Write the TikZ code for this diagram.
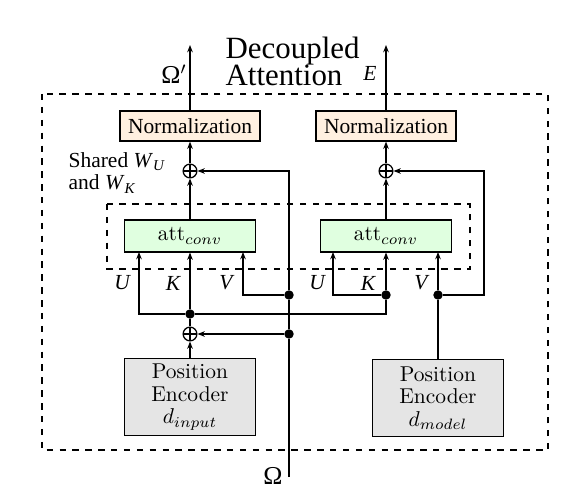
\documentclass[tikz,border=0pt]{standalone}
\usepackage[no-math]{fontspec}
\setmainfont{Liberation Serif}
\newfontfamily\cmfont{Latin Modern Roman}
\usetikzlibrary{arrows.meta}

\tikzset{
	norm/.style={draw, fill=orange!12, minimum width=2.29cm, minimum height=0.49cm, inner sep=0pt},
	attbox/.style={draw, fill=green!12, minimum width=2.14cm, minimum height=0.52cm, inner sep=0pt, font=\cmfont},
	posenc/.style={draw, fill=gray!20, minimum width=2.15cm, minimum height=1.27cm, inner sep=0pt, align=center, font=\cmfont\fontsize{10}{10.5}\selectfont},
	addop/.style={draw, circle, minimum size=6.4pt, inner sep=0pt, path picture={
		\draw (path picture bounding box.north) -- (path picture bounding box.south)
			(path picture bounding box.west) -- (path picture bounding box.east);}},
	dot/.style={circle, fill, minimum size=4.4pt, inner sep=0pt},
	lbl/.style={font=\itshape},
}

\begin{document}
\begin{tikzpicture}[x=0.01637cm, y=-0.01637cm, semithick, >={Stealth[length=3.4pt, width=2.6pt]}]
	\useasboundingbox (0,0) rectangle (572,499);
	\draw[dashed] (42,94) rectangle (548,450);
	\draw[dashed] (107,204) rectangle (470,269);

	\node[norm] (normL) at (190,126) {Normalization};
	\node[norm] (normR) at (386,126) {Normalization};
	\node[addop] (addL) at (190,171) {};
	\node[addop] (addR) at (386,171) {};
	\node[attbox] (attL) at (190,236) {att$_{conv}$};
	\node[attbox] (attR) at (386,236) {att$_{conv}$};
	\node[addop] (addB) at (190,334) {};
	\node[posenc] (posL) at (190,397) {Position\\Encoder\\$d_{input}$};
	\node[posenc] (posR) at (438,398) {Position\\Encoder\\$d_{model}$};

	\node[dot] (ktapL) at (190,314) {};
	\node[dot] (vtapL) at (289,295) {};
	\node[dot] (omtap) at (289,334) {};
	\node[dot] (ktapR) at (386,295) {};
	\node[dot] (vtapR) at (438,295) {};

	\coordinate (outL) at (190,45);
	\coordinate (outR) at (386,45);
	\coordinate (uL) at (139,252);
	\coordinate (vL) at (243,252);
	\coordinate (uR) at (333,252);
	\coordinate (vR) at (438,252);
	\coordinate (om) at (289,477);

	\node[anchor=west, align=left, inner sep=0pt, font=\fontsize{14.4}{12.6}\selectfont] (title) at (225,61) {Decoupled\\Attention};
	\node[anchor=west, align=left, inner sep=0pt, font=\fontsize{10}{10.4}\selectfont] (shared) at (68,173) {Shared \textit{W}\textsubscript{\textit{U}}\\and \textit{W}\textsubscript{\textit{K}}};
	\node[font=\large] (omp) at (174,74) {Ω$'$};
	\node[lbl] (eout) at (370,73) {E};
	\node[font=\large] (omin) at (273,476) {Ω};
	\node[lbl] at (122,283) {U};
	\node[lbl] at (173,283) {K};
	\node[lbl] at (226,283) {V};
	\node[lbl] at (317,283) {U};
	\node[lbl] at (368,283) {K};
	\node[lbl] at (421,283) {V};

	\draw[->] (normL) -- (outL);
	\draw[->] (normR) -- (outR);
	\draw[->] (addL) -- (normL);
	\draw[->] (addR) -- (normR);
	\draw[->] (attL) -- (addL);
	\draw[->] (attR) -- (addR);

	\draw[->] (posL) -- (addB);
	\draw (addB) -- (ktapL);
	\draw[->] (ktapL) -- (attL);
	\draw[->] (ktapL) -| (uL);
	\draw (ktapL) -| (ktapR);
	\draw[->] (ktapR) -- (attR);
	\draw[->] (ktapR) -| (uR);

	\draw (om) -- (omtap) -- (vtapL);
	\draw[->] (omtap) -- (addB);
	\draw[->] (vtapL) |- (addL);
	\draw[->] (vtapL) -| (vL);

	\draw (posR) -- (vtapR);
	\draw[->] (vtapR) -- (vR);
	\draw[->] (vtapR) -- ++(46,0) |- (addR);
\end{tikzpicture}
\end{document}
